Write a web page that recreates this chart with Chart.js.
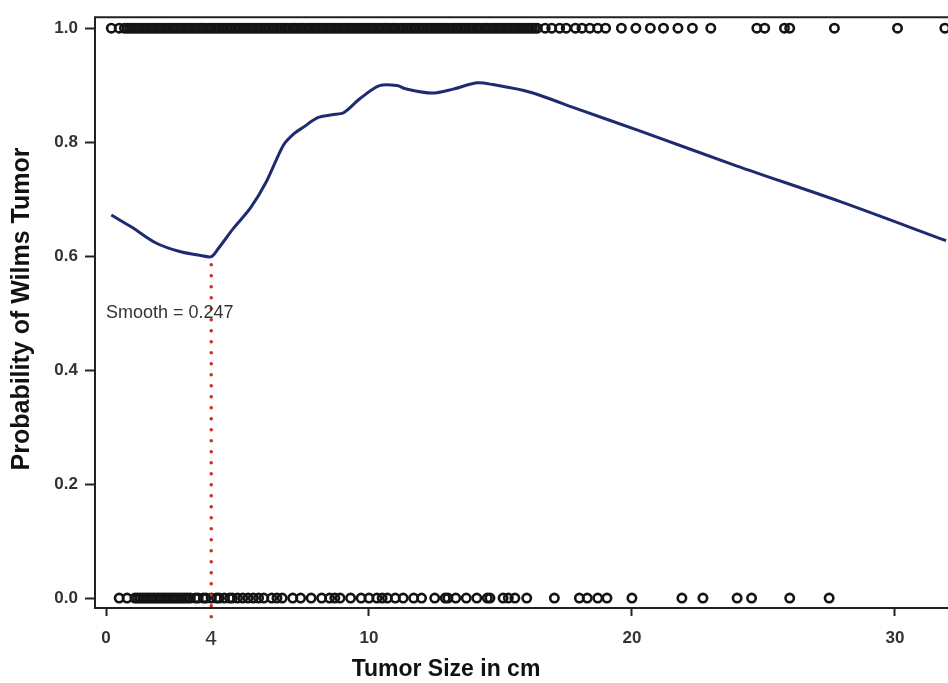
<!DOCTYPE html>
<html lang="en">
<head>
    <meta charset="UTF-8">
    <title>Probability of Wilms Tumor by Tumor Size</title>
    <style>
        body {
            margin: 0;
            padding: 0;
            background-color: white;
        }
        .chart-box {
            width: 948px;
            height: 683px;
        }
    </style>
</head>
<body>
    <div class="chart-box">
        <canvas id="wilmsChart"></canvas>
    </div>

    <script src="https://cdn.jsdelivr.net/npm/chart.js"></script>
    <script>
        // Tumor sizes (cm) of patients with Wilms tumor (plotted at 1.0)
        const wilmsSizes = [
            0.2, 0.5, 0.7, 0.8, 0.9, 1.0, 1.1, 1.2, 1.3, 1.4, 1.5, 1.6, 1.7, 1.8, 1.9, 2.0,
            2.1, 2.2, 2.3, 2.4, 2.5, 2.6, 2.7, 2.8, 2.9, 3.0, 3.1, 3.2, 3.3, 3.4, 3.5, 3.6,
            3.7, 3.8, 3.9, 4.0, 4.1, 4.2, 4.3, 4.4, 4.5, 4.6, 4.7, 4.8, 4.9, 5.0, 5.1, 5.2,
            5.3, 5.4, 5.5, 5.6, 5.7, 5.8, 5.9, 6.0, 6.1, 6.2, 6.3, 6.4, 6.5, 6.6, 6.7, 6.8,
            6.9, 7.0, 7.1, 7.2, 7.3, 7.4, 7.5, 7.6, 7.7, 7.8, 7.9, 8.0, 8.1, 8.2, 8.3, 8.4,
            8.5, 8.6, 8.7, 8.8, 8.9, 9.0, 9.1, 9.2, 9.3, 9.4, 9.5, 9.6, 9.7, 9.8, 9.9, 10.0,
            10.1, 10.2, 10.3, 10.4, 10.5, 10.6, 10.7, 10.8, 10.9, 11.0, 11.1, 11.2, 11.3, 11.4,
            11.5, 11.6, 11.7, 11.8, 11.9, 12.0, 12.1, 12.2, 12.3, 12.4, 12.5, 12.6, 12.7, 12.8,
            12.9, 13.0, 13.1, 13.2, 13.3, 13.4, 13.5, 13.6, 13.7, 13.8, 13.9, 14.0, 14.1, 14.2,
            14.3, 14.4, 14.5, 14.6, 14.7, 14.8, 14.9, 15.0, 15.1, 15.2, 15.3, 15.4, 15.5, 15.6,
            15.7, 15.8, 15.9, 16.0, 16.1, 16.2, 16.3, 16.4,
            16.7, 16.95, 17.25, 17.5, 17.85, 18.1, 18.4, 18.7, 19.0,
            19.6, 20.15, 20.7, 21.2, 21.75, 22.3, 23.0,
            24.75, 25.05, 25.8, 26.0, 27.7, 30.1, 31.9
        ];

        // Tumor sizes (cm) of patients without Wilms tumor (plotted at 0.0)
        const otherSizes = [
            0.5, 0.8, 1.1, 1.2, 1.3, 1.4, 1.5, 1.6, 1.7, 1.8, 1.9, 2.0, 2.1, 2.2, 2.3, 2.4,
            2.5, 2.6, 2.7, 2.8, 2.9, 3.0, 3.1, 3.2, 3.4, 3.5, 3.7, 3.8, 4.0, 4.2, 4.3, 4.5,
            4.7, 4.8, 5.0, 5.2, 5.4, 5.6, 5.8, 6.0, 6.3, 6.5, 6.7, 7.1, 7.4, 7.8, 8.2, 8.5,
            8.7, 8.9, 9.3, 9.7, 10.0, 10.3, 10.5, 10.7, 11.0, 11.3, 11.7, 12.0, 12.5, 12.9,
            13.0, 13.3, 13.7, 14.1, 14.5, 14.6, 15.1, 15.3, 15.55, 16.0,
            17.05, 18.0, 18.3, 18.7, 19.05, 20.0, 21.9, 22.7, 24.0, 24.55, 26.0, 27.5
        ];

        // Smoothed probability curve (smooth = 0.247)
        const curveSizes = [0.2, 1.0, 1.9, 2.8, 3.6, 4.0, 4.25, 4.85, 5.5, 6.1, 6.75, 7.15, 7.5, 8.05, 8.6,
            9.05, 9.65, 10.4, 11.1, 11.35, 12.4, 13.2, 14.1, 14.7, 16.1, 18.0, 20.4, 24.0, 27.9, 31.95];
        const curveProb = [0.672, 0.650, 0.623, 0.608, 0.601, 0.599, 0.612, 0.649, 0.685, 0.731, 0.795, 0.815,
            0.826, 0.843, 0.848, 0.852, 0.876, 0.899, 0.899, 0.894, 0.886, 0.893, 0.904, 0.901, 0.888,
            0.857, 0.818, 0.758, 0.696, 0.627];

        // Cut-off marker at 4 cm
        const cutoffSize = 4;
        const cutoffProb = [0.585, -0.038];

        const xTicks = [0, 4, 10, 20, 30];
        const yTicks = [0, 0.2, 0.4, 0.6, 0.8, 1.0];

        // Frame, axis titles and annotation drawn on the canvas
        const framePlugin = {
            id: 'frame',
            afterDraw(chart) {
                const ctx = chart.ctx;
                const area = chart.chartArea;
                ctx.save();
                ctx.strokeStyle = '#222';
                ctx.lineWidth = 2;
                ctx.beginPath();
                ctx.moveTo(area.right + 2, area.top);
                ctx.lineTo(area.left, area.top);
                ctx.lineTo(area.left, area.bottom);
                ctx.lineTo(area.right + 2, area.bottom);
                ctx.stroke();

                // annotation
                const xs = chart.scales.x;
                const ys = chart.scales.y;
                ctx.fillStyle = '#333';
                ctx.font = '18px "Liberation Sans", Arial, sans-serif';
                ctx.textAlign = 'left';
                ctx.textBaseline = 'middle';
                ctx.fillText('Smooth = 0.247', xs.getPixelForValue(0), ys.getPixelForValue(0.5));

                // axis titles
                ctx.fillStyle = '#111';
                ctx.font = 'bold 23px "Liberation Sans", Arial, sans-serif';
                ctx.textAlign = 'center';
                ctx.fillText('Tumor Size in cm', 446, 670);
                ctx.font = 'bold 25px "Liberation Sans", Arial, sans-serif';
                ctx.translate(22, 309);
                ctx.rotate(-Math.PI / 2);
                ctx.fillText('Probability of Wilms Tumor', 0, 0);
                ctx.restore();
            }
        };

        const ctxWilms = document.getElementById('wilmsChart').getContext('2d');
        const wilmsChart = new Chart(ctxWilms, {
            type: 'scatter',
            data: {
                datasets: [{
                    label: 'Wilms tumor',
                    data: wilmsSizes.map(s => ({ x: s, y: 1 })),
                    pointRadius: 4.2,
                    pointBorderWidth: 2.6,
                    borderColor: '#141414',
                    backgroundColor: 'rgba(0,0,0,0)',
                    order: 3
                }, {
                    label: 'Other',
                    data: otherSizes.map(s => ({ x: s, y: 0 })),
                    pointRadius: 4.2,
                    pointBorderWidth: 2.6,
                    borderColor: '#141414',
                    backgroundColor: 'rgba(0,0,0,0)',
                    order: 3
                }, {
                    label: 'Smoothed probability',
                    data: curveSizes.map((s, i) => ({ x: s, y: curveProb[i] })),
                    showLine: true,
                    borderColor: '#1f2b70',
                    borderWidth: 3,
                    pointRadius: 0,
                    tension: 0.3,
                    order: 1
                }, {
                    label: 'Cut-off',
                    data: cutoffProb.map(p => ({ x: cutoffSize, y: p })),
                    showLine: true,
                    borderColor: '#c62d1f',
                    borderWidth: 3.5,
                    borderDash: [0, 11],
                    borderCapStyle: 'round',
                    pointRadius: 0,
                    clip: false,
                    order: 2
                }]
            },
            options: {
                responsive: true,
                maintainAspectRatio: false,
                animation: false,
                layout: {
                    autoPadding: false,
                    padding: { top: 15, right: 0, bottom: 0, left: 0 }
                },
                plugins: {
                    legend: { display: false },
                    tooltip: { enabled: false }
                },
                scales: {
                    x: {
                        type: 'linear',
                        min: -0.42,
                        max: 32.02,
                        afterBuildTicks: (scale) => {
                            scale.ticks = xTicks.map(v => ({ value: v }));
                        },
                        afterFit: (scale) => {
                            scale.height = 75;
                        },
                        border: { display: false },
                        grid: {
                            drawOnChartArea: false,
                            tickLength: 8,
                            tickWidth: 2,
                            tickColor: (c) => c.tick && c.tick.value === 4 ? 'rgba(0,0,0,0)' : '#222'
                        },
                        ticks: {
                            color: '#333',
                            padding: 12,
                            maxRotation: 0,
                            autoSkip: false,
                            font: (c) => c.tick && c.tick.value === 4
                                ? { family: '"DejaVu Sans", sans-serif', size: 20 }
                                : { family: '"Liberation Sans", Arial, sans-serif', size: 17, weight: 'bold' }
                        }
                    },
                    y: {
                        type: 'linear',
                        min: -0.0175,
                        max: 1.0192,
                        afterBuildTicks: (scale) => {
                            scale.ticks = yTicks.map(v => ({ value: v }));
                        },
                        afterFit: (scale) => {
                            scale.width = 95;
                        },
                        border: { display: false },
                        grid: {
                            drawOnChartArea: false,
                            tickLength: 10,
                            tickWidth: 2,
                            tickColor: '#222'
                        },
                        ticks: {
                            color: '#333',
                            padding: 7,
                            autoSkip: false,
                            callback: (v) => v.toFixed(1),
                            font: { family: '"Liberation Sans", Arial, sans-serif', size: 17, weight: 'bold' }
                        }
                    }
                }
            },
            plugins: [framePlugin]
        });
    </script>
</body>
</html>
